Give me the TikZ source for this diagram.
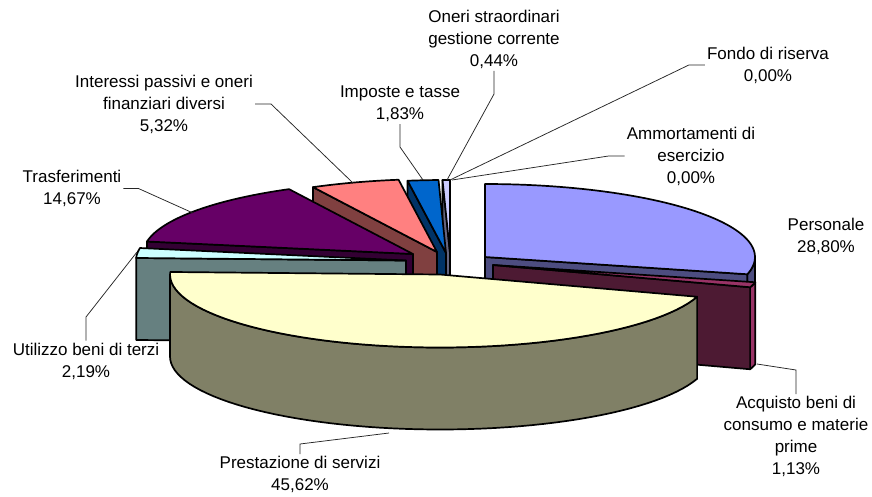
\documentclass[tikz,border=0pt]{standalone}
\usepackage{fontspec}
\setmainfont{Liberation Sans}
\usepackage{tikz}
\definecolor{perTop}{HTML}{9999FF}
\definecolor{perSide}{HTML}{4D4D80}
\definecolor{acqTop}{HTML}{993366}
\definecolor{acqSide}{HTML}{4D1A33}
\definecolor{preTop}{HTML}{FFFFCC}
\definecolor{preSide}{HTML}{808066}
\definecolor{utiTop}{HTML}{CCFFFF}
\definecolor{utiSide}{HTML}{668080}
\definecolor{traTop}{HTML}{660066}
\definecolor{traSide}{HTML}{330033}
\definecolor{intTop}{HTML}{FF8080}
\definecolor{intSide}{HTML}{804040}
\definecolor{impTop}{HTML}{0066CC}
\definecolor{impSide}{HTML}{003366}
\definecolor{oneTop}{HTML}{CCCCFF}
\definecolor{oneSide}{HTML}{666680}
\tikzstyle{slice}=[draw=black, line width=1.7pt, line join=round]
\tikzstyle{lbl}=[align=center, inner sep=2pt, font=\fontsize{17}{22}\selectfont]
\tikzstyle{leader}=[draw=black!85, line width=0.75pt]
\newcommand{\pieRx}{270}
\newcommand{\pieRy}{73}
\newcommand{\pieDep}{82}
% top face: vertex x, vertex y, from angle, to angle, colour
\newcommand{\topface}[5]{\filldraw[slice, fill=#5] (#1,#2) -- plot[domain=#3:#4, samples=60] ({#1+\pieRx*sin(\x)},{#2-\pieRy*cos(\x)}) -- cycle;}
% cut face at one angle
\newcommand{\cutface}[4]{\filldraw[slice, fill=#4] (#1,#2) -- ({#1+\pieRx*sin(#3)},{#2-\pieRy*cos(#3)}) -- ++(0,\pieDep) -- (#1,#2+\pieDep) -- cycle;}
% outer rim between two angles
\newcommand{\rimface}[5]{\filldraw[slice, fill=#5] plot[domain=#3:#4, samples=60] ({#1+\pieRx*sin(\x)},{#2-\pieRy*cos(\x)}) -- plot[domain=#4:#3, samples=60] ({#1+\pieRx*sin(\x)},{#2+\pieDep-\pieRy*cos(\x)}) -- cycle;}

\begin{document}
\begin{tikzpicture}[x=1pt, y=-1pt]
	\useasboundingbox (0,0) rectangle (872,496);
	
	%The back slices
	\cutface{450}{253}{358.41}{oneSide}
	\topface{450}{253}{358.41}{360}{oneTop}
	\cutface{446}{253}{351.82}{impSide}
	\topface{446}{253}{351.82}{358.41}{impTop}
	\cutface{437}{252}{332.67}{intSide}
	\topface{437}{252}{332.67}{351.82}{intTop}
	\cutface{413}{254}{279.86}{traSide}
	\topface{413}{254}{279.86}{332.67}{traTop}
	\cutface{406}{260.5}{271.98}{utiSide}
	\topface{406}{260.5}{271.98}{279.86}{utiTop}
	
	%The right slices
	\rimface{485}{257}{90}{103.68}{perSide}
	\cutface{485}{257}{103.68}{perSide}
	\topface{485}{257}{0}{103.68}{perTop}
	\rimface{493}{265}{103.68}{107.75}{acqTop}
	\cutface{493}{265}{107.75}{acqSide}
	\topface{493}{265}{103.68}{107.75}{acqTop}
	
	%The front slice
	\rimface{440}{274.5}{107.75}{270}{preSide}
	\topface{440}{274.5}{107.75}{271.98}{preTop}
	
	%The labels
	\node[lbl] (lOne) at (494,39.5) {Oneri straordinari\\gestione corrente\\0,44\%};
	\node[lbl] (lImp) at (400,104) {Imposte e tasse\\1,83\%};
	\node[lbl] (lInt) at (164,104) {Interessi passivi e oneri\\finanziari diversi\\5,32\%};
	\node[lbl] (lFon) at (768,65) {Fondo di riserva\\0,00\%};
	\node[lbl] (lAmm) at (691,156) {Ammortamenti di\\esercizio\\0,00\%};
	\node[lbl] (lPer) at (826,236.5) {Personale\\28,80\%};
	\node[lbl] (lTra) at (72,188.5) {Trasferimenti\\14,67\%};
	\node[lbl] (lUti) at (86,361) {Utilizzo beni di terzi\\2,19\%};
	\node[lbl] (lPre) at (300,474.5) {Prestazione di servizi\\45,62\%};
	\node[lbl] (lAcq) at (796,436.5) {Acquisto beni di\\consumo e materie\\prime\\1,13\%};
	
	%The leader ends
	\coordinate (pOne) at (447,180);
	\coordinate (pImp) at (423,180);
	\coordinate (pFon) at (450,180);
	\coordinate (pAmm) at (452,180);
	\coordinate (pInt) at (353,183);
	\coordinate (pTra) at (193,213);
	\coordinate (pUti) at (137,252);
	\coordinate (pPre) at (389,433);
	\coordinate (pAcq) at (757,364);
	
	\draw[leader] (lOne.south) -- (lOne.south |- 0,94) -- (pOne);
	\draw[leader] (lImp.south) -- (lImp.south |- 0,147) -- (pImp);
	\draw[leader] (lFon.west) -- ++(-16,0) -- (pFon);
	\draw[leader] (lAmm.west) -- ++(-16,0) -- (pAmm);
	\draw[leader] (lInt.east) -- ++(16,0) -- (pInt);
	\draw[leader] (lTra.east) -- ++(15,0) -- (pTra);
	\draw[leader] (lUti.north) -- (lUti.north |- 0,317) -- (pUti);
	\draw[leader] (lPre.north) -- (lPre.north |- 0,444) -- (pPre);
	\draw[leader] (lAcq.north) -- (lAcq.north |- 0,370) -- (pAcq);
\end{tikzpicture}
\end{document}
